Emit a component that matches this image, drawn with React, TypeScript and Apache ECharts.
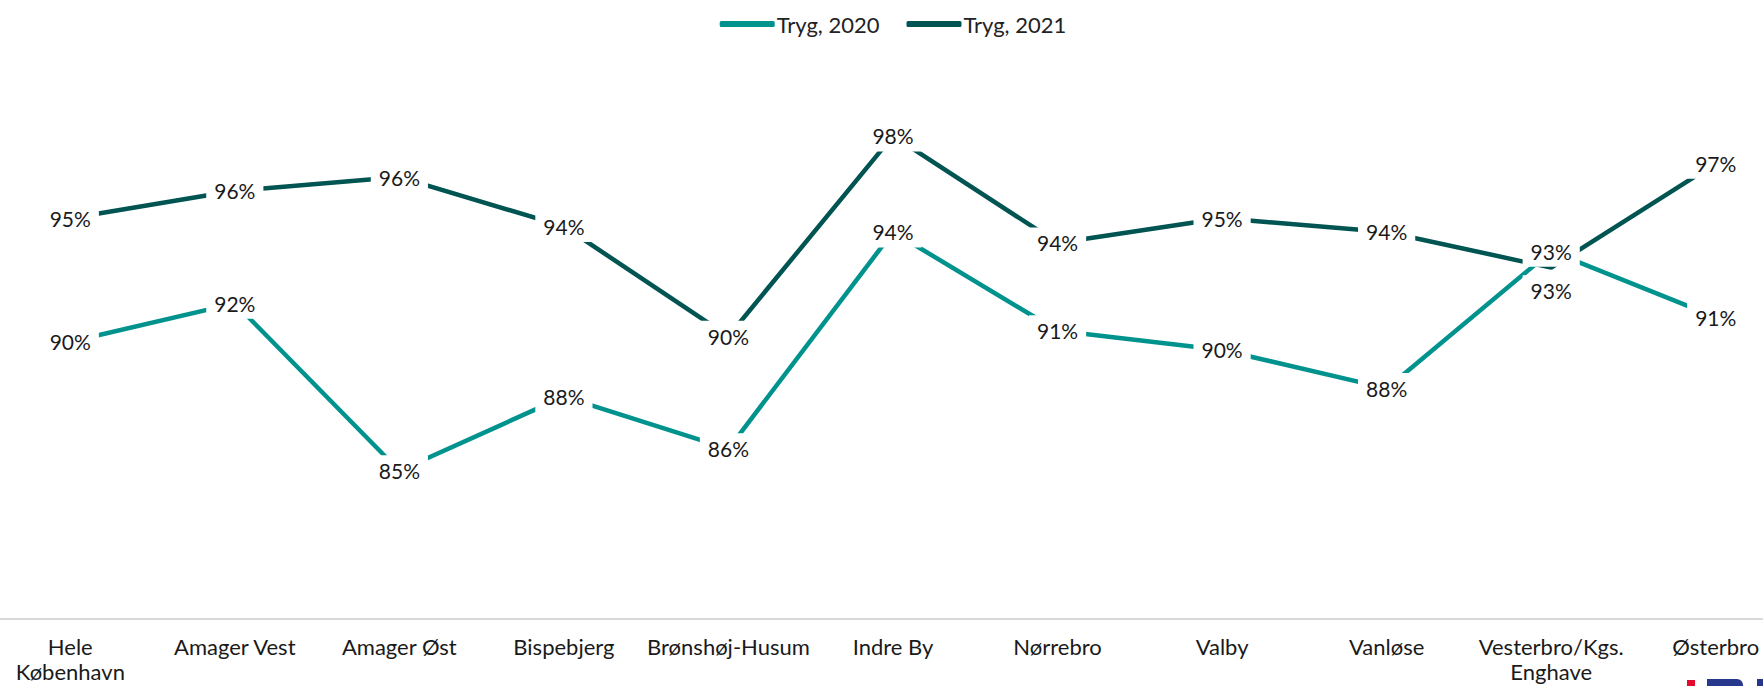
import React, { useEffect, useRef } from "react";
import * as echarts from "echarts";

const categories = [
  "Hele\nKøbenhavn",
  "Amager Vest",
  "Amager Øst",
  "Bispebjerg",
  "Brønshøj-Husum",
  "Indre By",
  "Nørrebro",
  "Valby",
  "Vanløse",
  "Vesterbro/Kgs.\nEnghave",
  "Østerbro",
];

const seriesNames = ["Tryg, 2020", "Tryg, 2021"];
const tryg2020 = [90.1, 91.5, 85.4, 88.1, 86.2, 94.1, 90.5, 89.8, 88.4, 93.4, 91.0];
const tryg2021 = [94.6, 95.6, 96.1, 94.3, 90.3, 97.6, 93.7, 94.6, 94.1, 92.8, 96.6];
// index of a label that sits below its point (per series)
const labelBelow2021 = [9];

const FONT = "Lato, 'Noto Sans', sans-serif";

export default function App() {
  const ref = useRef<HTMLDivElement>(null);

  useEffect(() => {
    if (!ref.current) return;
    const chart = echarts.init(ref.current, null, { renderer: "svg" });

    const labelBase = {
      show: true,
      position: "inside" as const,
      formatter: (p: any) => Math.round(p.value) + "%",
      color: "#1a1a1a",
      fontSize: 21,
      fontFamily: FONT,
      backgroundColor: "#ffffff",
      padding: [5, 8, 5, 8],
    };

    const data2021 = tryg2021.map((v, i) =>
      labelBelow2021.includes(i) ? { value: v, label: { offset: [0, 23] } } : v
    );

    chart.setOption({
      animation: false,
      backgroundColor: "#ffffff",
      legend: {
        top: 8,
        left: "center",
        itemWidth: 55,
        itemHeight: 6,
        itemGap: 27,
        icon: "roundRect",
        textStyle: { fontSize: 22, fontFamily: FONT, color: "#222222", padding: [0, 0, 0, -3] },
        data: seriesNames,
      },
      grid: { left: 0, right: 0, top: 70, bottom: 67, containLabel: false },
      xAxis: {
        type: "category",
        data: categories,
        boundaryGap: true,
        axisLine: { show: true, lineStyle: { color: "#d9d9d9", width: 2 } },
        axisTick: { show: false },
        axisLabel: {
          interval: 0,
          margin: 15,
          color: "#1a1a1a",
          fontSize: 22,
          lineHeight: 25,
          fontFamily: FONT,
        },
        splitLine: { show: false },
      },
      yAxis: {
        type: "value",
        min: 80,
        max: 100,
        show: false,
        splitLine: { show: false },
      },
      series: [
        {
          name: seriesNames[0],
          type: "line",
          data: tryg2020,
          symbol: "circle",
          symbolSize: 1,
          color: "#00938E",
          lineStyle: { width: 4.5, color: "#00938E" },
          label: labelBase,
        },
        {
          name: seriesNames[1],
          type: "line",
          data: data2021,
          symbol: "circle",
          symbolSize: 1,
          color: "#005451",
          lineStyle: { width: 4.5, color: "#005451" },
          label: labelBase,
        },
      ],
      graphic: [
        { type: "rect", shape: { x: 1699, y: 680, width: 8, height: 6 }, style: { fill: "#e30a2f" } },
        { type: "rect", shape: { x: 1719, y: 679, width: 36, height: 7, r: [0, 6, 0, 0] }, style: { fill: "#27378b" } },
        { type: "rect", shape: { x: 1769, y: 679, width: 6, height: 7 }, style: { fill: "#27378b" } },
      ],
    });

    return () => chart.dispose();
  }, []);

  return (
    <div
      style={{
        position: "fixed",
        left: 0,
        top: 0,
        width: 1763,
        height: 686,
        overflow: "hidden",
        background: "#fff",
      }}
    >
      <div
        ref={ref}
        style={{ position: "absolute", left: -12, top: 0, width: 1810, height: 686 }}
      />
    </div>
  );
}
